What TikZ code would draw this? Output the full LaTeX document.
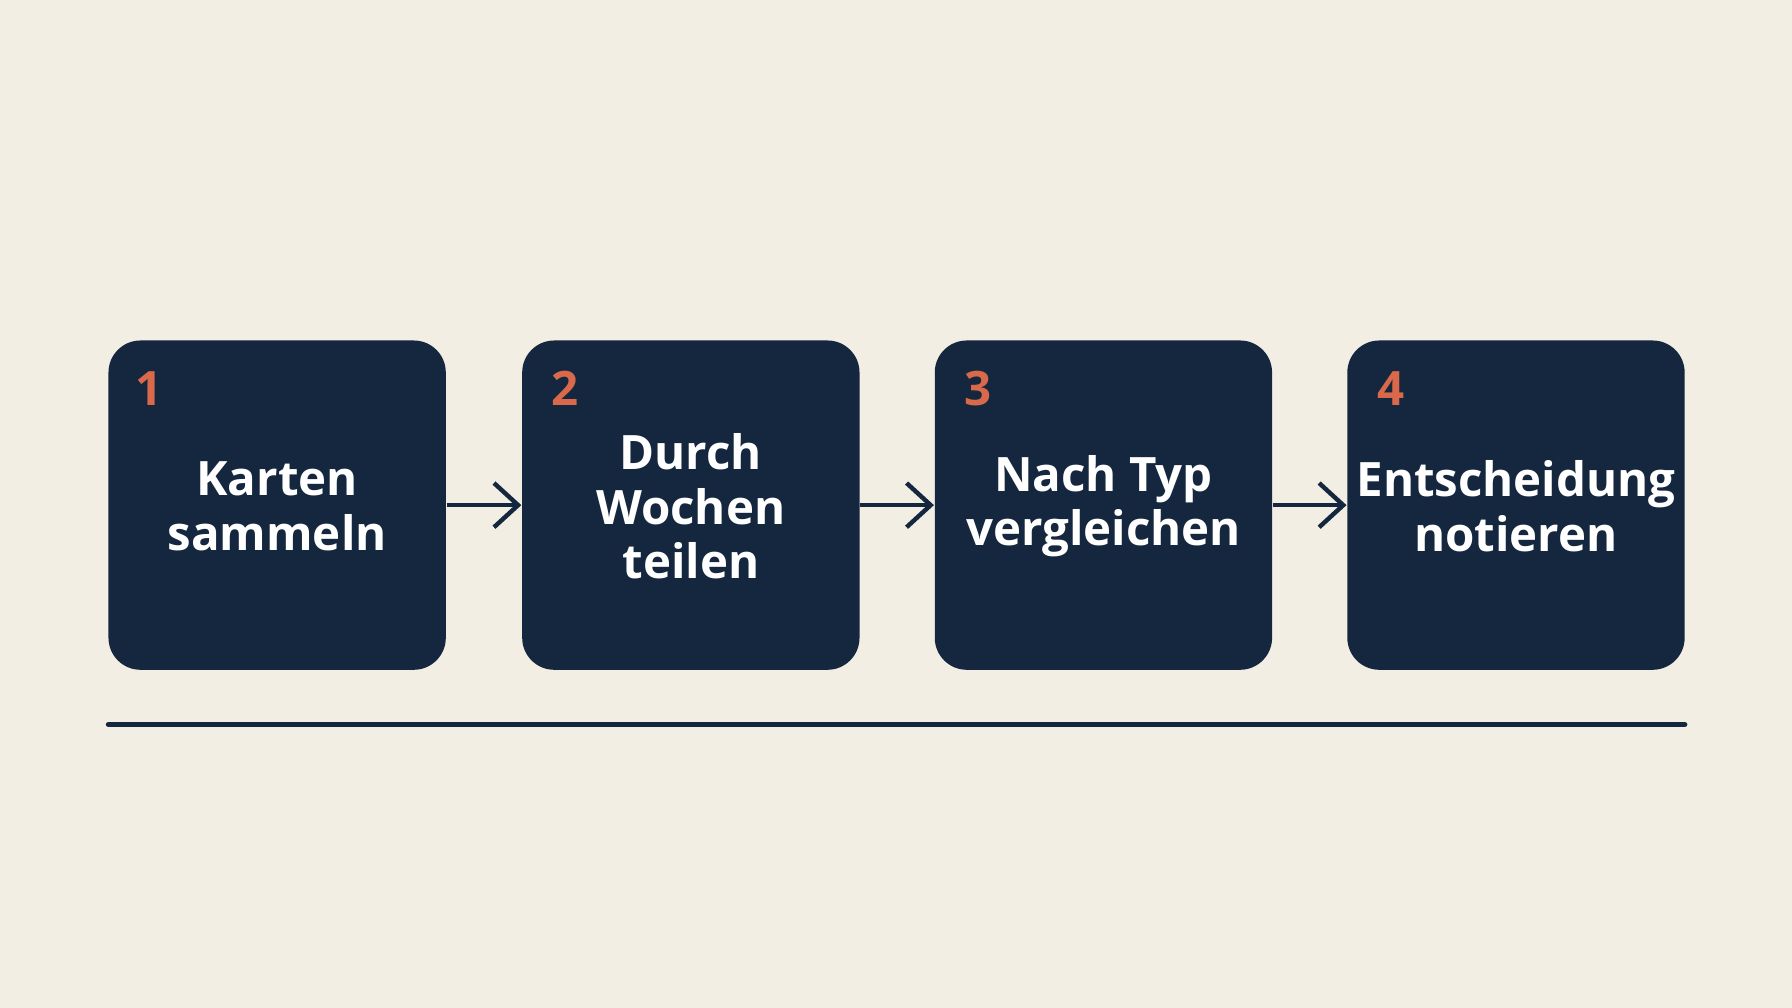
\documentclass[tikz,border=0pt]{standalone}
\usepackage{fontspec}
\setmainfont{Open Sans}
\usetikzlibrary{arrows.meta}
\definecolor{bg}{HTML}{F3EEE3}
\definecolor{navy}{HTML}{14273F}
\definecolor{accent}{HTML}{D9694A}
\begin{document}
\begin{tikzpicture}[x=0.01cm,y=-0.01cm,
  box/.style={fill=navy,rounded corners=0.28cm,minimum width=2.95cm,minimum height=2.88cm,inner sep=0pt},
  lbl/.style={text=white,font=\bfseries\fontsize{11.8}{13.6}\selectfont,align=center},
  num/.style={text=accent,font=\bfseries\fontsize{11.8}{13.6}\selectfont},
  arr/.style={draw=navy,line width=1.1pt,-{Straight Barb[length=6pt,width=11pt,line width=1.1pt]}}]
\fill[bg] (0,0) rectangle (1568,882);
\useasboundingbox (0,0) rectangle (1568,882);
\node[box] (b1) at (242.5,442) {};
\node[box] (b2) at (604.5,442) {};
\node[box] (b3) at (965.5,442) {};
\node[box] (b4) at (1326.5,442) {};
\node[num] (n1) at (130,340) {1};
\node[num] (n2) at (494,340) {2};
\node[num] (n3) at (856,340) {3};
\node[num] (n4) at (1217,340) {4};
\node[lbl] (t1) at (242.5,443) {Karten\\sammeln};
\node[lbl] (t2) at (604.5,443) {Durch\\Wochen\\teilen};
\node[lbl] (t3) at (965.5,443) {Nach Typ\\vergleichen};
\node[lbl] (t4) at (1326.5,443) {Entscheidung\\notieren};
\draw[arr] (b1.east) -- (b2.west);
\draw[arr] (b2.east) -- (b3.west);
\draw[arr] (b3.east) -- (b4.west);
\coordinate (l1) at (95,634);
\coordinate (l2) at (1474,634);
\draw[navy,line width=1.4pt,line cap=round] (l1) -- (l2);
\end{tikzpicture}
\end{document}
